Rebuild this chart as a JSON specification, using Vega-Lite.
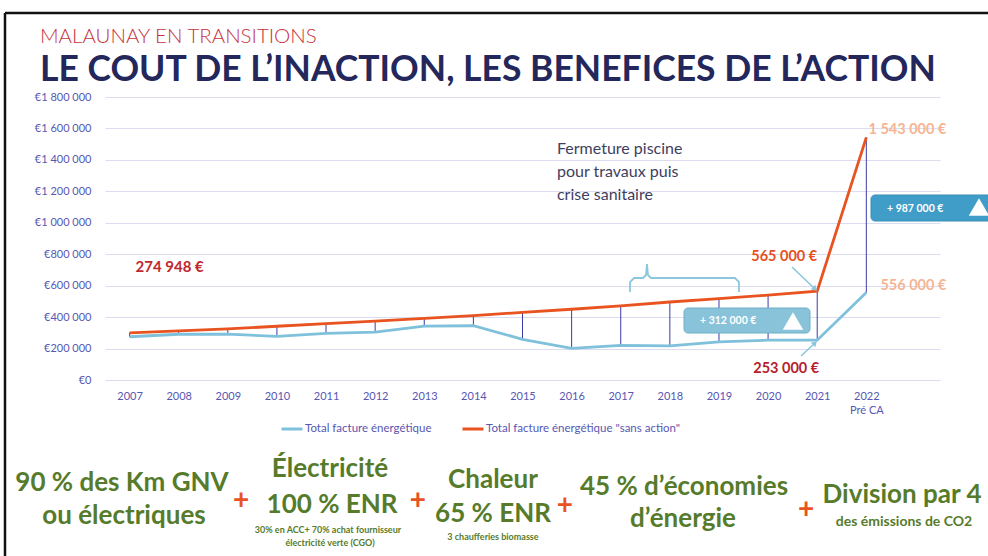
{
  "$schema": "https://vega.github.io/schema/vega-lite/v6.json",
  "width": 835,
  "height": 283,
  "autosize": "none",
  "padding": {"left": 105, "top": 97, "right": 48, "bottom": 176},
  "background": "white",
  "config": {"view": {"stroke": null}, "font": "Lato"},
  "title": {
    "text": "MALAUNAY EN TRANSITIONS",
    "subtitle": "LE COUT DE L’INACTION, LES BENEFICES DE L’ACTION",
    "anchor": "start",
    "frame": "group",
    "dx": -65,
    "offset": -77,
    "font": "Lato",
    "fontSize": 20.5,
    "fontWeight": 300,
    "color": "#C7343E",
    "subtitleFont": "Lato",
    "subtitleFontSize": 35.5,
    "subtitleFontWeight": "bold",
    "subtitleColor": "#23275C",
    "subtitlePadding": 6
  },
  "datasets": {
    "bills": [
      {"year": 2007, "total": 274948, "sansAction": 300000},
      {"year": 2008, "total": 291000, "sansAction": 312000},
      {"year": 2009, "total": 292000, "sansAction": 325000},
      {"year": 2010, "total": 277000, "sansAction": 342000},
      {"year": 2011, "total": 297000, "sansAction": 358000},
      {"year": 2012, "total": 305000, "sansAction": 374000},
      {"year": 2013, "total": 343000, "sansAction": 392000},
      {"year": 2014, "total": 345000, "sansAction": 410000},
      {"year": 2015, "total": 259000, "sansAction": 430000},
      {"year": 2016, "total": 201000, "sansAction": 450000},
      {"year": 2017, "total": 220000, "sansAction": 472000},
      {"year": 2018, "total": 217000, "sansAction": 496000},
      {"year": 2019, "total": 243000, "sansAction": 518000},
      {"year": 2020, "total": 253000, "sansAction": 540000},
      {"year": 2021, "total": 253000, "sansAction": 565000},
      {"year": 2022, "total": 556000, "sansAction": 1543000}
    ],
    "footer": [
      {"x": 2006.846, "y": -706004, "text": "90 % des Km GNV", "role": "big"},
      {"x": 2006.887, "y": -915898, "text": "ou électriques", "role": "big"},
      {"x": 2011.081, "y": -616959, "text": "Électricité", "role": "big"},
      {"x": 2011.122, "y": -845933, "text": "100 % ENR", "role": "big"},
      {"x": 2011.040, "y": -973141, "text": "30% en ACC+ 70% achat fournisseur", "role": "note"},
      {"x": 2011.081, "y": -1055826, "text": "électricité verte (CGO)", "role": "note"},
      {"x": 2014.399, "y": -686923, "text": "Chaleur", "role": "big"},
      {"x": 2014.399, "y": -903177, "text": "65 % ENR", "role": "big"},
      {"x": 2014.399, "y": -1017664, "text": "3 chaufferies biomasse", "role": "note"},
      {"x": 2018.288, "y": -731446, "text": "45 % d’économies", "role": "big"},
      {"x": 2018.268, "y": -934979, "text": "d’énergie", "role": "big"},
      {"x": 2022.726, "y": -782329, "text": "Division par 4", "role": "big"},
      {"x": 2022.767, "y": -928618, "text": "des émissions de CO2", "role": "co2"},
      {"x": 2009.269, "y": -820492, "text": "+", "role": "plus"},
      {"x": 2012.872, "y": -820492, "text": "+", "role": "plus"},
      {"x": 2015.865, "y": -852294, "text": "+", "role": "plus"},
      {"x": 2020.772, "y": -877735, "text": "+", "role": "plus"}
    ],
    "boxes": [
      {"x1": 2018.288, "x2": 2020.853, "y1": 298939, "y2": 457949, "tx": 2018.614, "ty": 375264, "trix": 2020.507, "triy": 375264, "label": "+ 312 000 €", "kind": "light"},
      {"x1": 2022.095, "x2": 2024.62, "y1": 1011304, "y2": 1176674, "tx": 2022.421, "ty": 1087628, "trix": 2024.294, "triy": 1100349, "label": "+ 987 000 €", "kind": "dark"}
    ],
    "brace": [
      {"i": 1, "x": 2017.189, "y": 559715},
      {"i": 2, "x": 2017.189, "y": 623319},
      {"i": 3, "x": 2017.270, "y": 648761},
      {"i": 4, "x": 2017.453, "y": 648761},
      {"i": 5, "x": 2017.514, "y": 667842},
      {"i": 6, "x": 2017.535, "y": 737806},
      {"i": 7, "x": 2017.555, "y": 667842},
      {"i": 8, "x": 2017.616, "y": 648761},
      {"i": 9, "x": 2019.326, "y": 648761},
      {"i": 10, "x": 2019.408, "y": 623319},
      {"i": 11, "x": 2019.408, "y": 559715}
    ],
    "arrows": [
      {"id": "a", "x": 2020.487, "y": 718725, "x2": 2020.955, "y2": 578796},
      {"id": "b", "x": 2020.670, "y": 152650, "x2": 2020.955, "y2": 235335}
    ],
    "frame": [
      {"x": 2004.464, "y": 2334267, "x2": 2024.6, "y2": 2334267},
      {"x": 2004.464, "y": 2334267, "x2": 2004.464, "y2": -1125000}
    ]
  },
  "layer": [
    {
      "data": {"name": "bills"},
      "mark": {"type": "rule", "color": "#3B3BA8", "strokeWidth": 1},
      "encoding": {
        "x": {"field": "year", "type": "quantitative", "scale": {"domain": [2006.5, 2023.5], "nice": false, "zero": false},
          "axis": {"values": [2007, 2008, 2009, 2010, 2011, 2012, 2013, 2014, 2015, 2016, 2017, 2018, 2019, 2020, 2021, 2022],
            "tickCount": 40,
            "labelExpr": "datum.value == 2022 ? ['2022', 'Pré CA'] : format(datum.value, 'd')",
            "grid": false, "ticks": false, "tickSize": 0, "domain": false, "labelFlush": false, "labelOverlap": false,
            "labelColor": "#5757B2", "labelFont": "Lato", "labelFontSize": 11, "labelPadding": 10, "labelLineHeight": 14, "title": null}},
        "y": {"field": "total", "type": "quantitative", "scale": {"domain": [0, 1800000], "nice": false},
          "axis": {"values": [0, 200000, 400000, 600000, 800000, 1000000, 1200000, 1400000, 1600000, 1800000],
            "tickCount": 40,
            "labelExpr": "'€' + replace(replace(format(datum.value, ','), ',', ' '), ',', ' ')",
            "grid": true, "gridColor": "#DCDCF0", "gridWidth": 1.2, "ticks": false, "tickSize": 0, "domain": false, "labelOverlap": false,
            "labelColor": "#5757B2", "labelFont": "Lato", "labelFontSize": 11, "labelPadding": 14, "title": null}},
        "y2": {"field": "sansAction"}
      }
    },
    {
      "data": {"name": "bills"},
      "transform": [{"fold": ["total", "sansAction"], "as": ["serie", "value"]}],
      "mark": {"type": "line", "strokeWidth": 2.8},
      "encoding": {
        "x": {"field": "year", "type": "quantitative"},
        "y": {"field": "value", "type": "quantitative"},
        "color": {"field": "serie", "type": "nominal",
          "scale": {"domain": ["total", "sansAction"], "range": ["#7FC0DB", "#E8531F"]},
          "legend": {"orient": "none", "legendX": 175, "legendY": 320, "direction": "horizontal", "title": null,
            "symbolType": "stroke", "symbolSize": 441, "symbolStrokeWidth": 3, "labelFont": "Lato", "labelFontSize": 11.5,
            "labelColor": "#5757B2", "labelOffset": 1, "columnPadding": 24, "padding": 0, "labelLimit": 400,
            "labelExpr": "datum.value == 'total' ? 'Total facture énergétique' : 'Total facture énergétique \"sans action\"'"}}
      }
    },
    {
      "data": {"name": "boxes"},
      "mark": {"type": "rect", "cornerRadius": 4, "strokeWidth": 1},
      "encoding": {
        "x": {"field": "x1", "type": "quantitative"},
        "x2": {"field": "x2"},
        "y": {"field": "y1", "type": "quantitative"},
        "y2": {"field": "y2"},
        "fill": {"field": "kind", "type": "nominal", "scale": {"domain": ["light", "dark"], "range": ["#88C3DA", "#3F9DC8"]}, "legend": null},
        "stroke": {"field": "kind", "type": "nominal", "scale": {"domain": ["light", "dark"], "range": ["#6FAFC9", "#3A90B8"]}, "legend": null}
      }
    },
    {
      "data": {"name": "boxes"},
      "mark": {"type": "text", "align": "left", "baseline": "middle", "color": "white", "fontWeight": "bold", "fontSize": 10.5, "font": "Lato"},
      "encoding": {
        "x": {"field": "tx", "type": "quantitative"},
        "y": {"field": "ty", "type": "quantitative"},
        "text": {"field": "label"}
      }
    },
    {
      "data": {"name": "boxes"},
      "mark": {"type": "point", "shape": "triangle-up", "filled": true, "color": "white", "opacity": 1, "size": 420},
      "encoding": {
        "x": {"field": "trix", "type": "quantitative"},
        "y": {"field": "triy", "type": "quantitative"}
      }
    },
    {
      "data": {"values": [{"year": 2007, "value": 274948, "label": "274 948 €"}]},
      "mark": {"type": "text", "align": "left", "baseline": "middle", "dx": 6, "dy": -70, "color": "#C0282D", "fontWeight": "bold", "fontSize": 15, "font": "Lato"},
      "encoding": {"x": {"field": "year", "type": "quantitative"}, "y": {"field": "value", "type": "quantitative"}, "text": {"field": "label"}}
    },
    {
      "data": {"values": [{"year": 2021, "value": 565000, "label": "565 000 €"}]},
      "mark": {"type": "text", "align": "right", "baseline": "middle", "dx": 0, "dy": -34, "color": "#E5501C", "fontWeight": "bold", "fontSize": 14.5, "font": "Lato"},
      "encoding": {"x": {"field": "year", "type": "quantitative"}, "y": {"field": "value", "type": "quantitative"}, "text": {"field": "label"}}
    },
    {
      "data": {"values": [{"year": 2021, "value": 253000, "label": "253 000 €"}]},
      "mark": {"type": "text", "align": "right", "baseline": "middle", "dx": 2, "dy": 29, "color": "#B5202C", "fontWeight": "bold", "fontSize": 14.5, "font": "Lato"},
      "encoding": {"x": {"field": "year", "type": "quantitative"}, "y": {"field": "value", "type": "quantitative"}, "text": {"field": "label"}}
    },
    {
      "data": {"values": [{"year": 2022, "value": 1543000, "label": "1 543 000 €"}, {"year": 2022, "value": 556000, "label": "556 000 €"}]},
      "mark": {"type": "text", "align": "right", "baseline": "middle", "dx": 80, "dy": -7, "color": "#F5B595", "fontWeight": "bold", "fontSize": 14.5, "font": "Lato"},
      "encoding": {"x": {"field": "year", "type": "quantitative"}, "y": {"field": "value", "type": "quantitative"}, "text": {"field": "label"}}
    },
    {
      "data": {"values": [{"x": 2015.702, "y": 1437450, "note": "Fermeture piscine\npour travaux puis\ncrise sanitaire"}]},
      "mark": {"type": "text", "align": "left", "baseline": "alphabetic", "lineBreak": "\n", "lineHeight": 23, "color": "#3E3E5E", "fontSize": 16, "font": "Lato"},
      "encoding": {"x": {"field": "x", "type": "quantitative"}, "y": {"field": "y", "type": "quantitative"}, "text": {"field": "note"}}
    },
    {
      "data": {"name": "brace"},
      "mark": {"type": "line", "color": "#8CC6DE", "strokeWidth": 1.8},
      "encoding": {
        "x": {"field": "x", "type": "quantitative"},
        "y": {"field": "y", "type": "quantitative"},
        "order": {"field": "i", "type": "quantitative"}
      }
    },
    {
      "data": {"name": "arrows"},
      "mark": {"type": "rule", "color": "#8CC6DE", "strokeWidth": 1.6},
      "encoding": {
        "x": {"field": "x", "type": "quantitative"},
        "y": {"field": "y", "type": "quantitative"},
        "x2": {"field": "x2"},
        "y2": {"field": "y2"}
      }
    },
    {
      "data": {"name": "arrows"},
      "transform": [{"filter": "datum.id == 'a'"}],
      "mark": {"type": "point", "shape": "triangle-up", "filled": true, "color": "#8CC6DE", "opacity": 1, "size": 40, "angle": 135},
      "encoding": {"x": {"field": "x2", "type": "quantitative"}, "y": {"field": "y2", "type": "quantitative"}}
    },
    {
      "data": {"name": "arrows"},
      "transform": [{"filter": "datum.id == 'b'"}],
      "mark": {"type": "point", "shape": "triangle-up", "filled": true, "color": "#8CC6DE", "opacity": 1, "size": 40, "angle": 45},
      "encoding": {"x": {"field": "x2", "type": "quantitative"}, "y": {"field": "y2", "type": "quantitative"}}
    },
    {
      "data": {"name": "footer"},
      "transform": [{"filter": "datum.role == 'big'"}],
      "mark": {"type": "text", "align": "center", "baseline": "alphabetic", "color": "#567B2B", "fontWeight": "bold", "fontSize": 26, "font": "Lato"},
      "encoding": {"x": {"field": "x", "type": "quantitative"}, "y": {"field": "y", "type": "quantitative"}, "text": {"field": "text"}}
    },
    {
      "data": {"name": "footer"},
      "transform": [{"filter": "datum.role == 'note'"}],
      "mark": {"type": "text", "align": "center", "baseline": "alphabetic", "color": "#567B2B", "fontWeight": "bold", "fontSize": 9, "font": "Lato"},
      "encoding": {"x": {"field": "x", "type": "quantitative"}, "y": {"field": "y", "type": "quantitative"}, "text": {"field": "text"}}
    },
    {
      "data": {"name": "footer"},
      "transform": [{"filter": "datum.role == 'co2'"}],
      "mark": {"type": "text", "align": "center", "baseline": "alphabetic", "color": "#567B2B", "fontWeight": "bold", "fontSize": 14, "font": "Lato"},
      "encoding": {"x": {"field": "x", "type": "quantitative"}, "y": {"field": "y", "type": "quantitative"}, "text": {"field": "text"}}
    },
    {
      "data": {"name": "footer"},
      "transform": [{"filter": "datum.role == 'plus'"}],
      "mark": {"type": "text", "align": "center", "baseline": "alphabetic", "color": "#E8531F", "fontWeight": "bold", "fontSize": 28, "font": "Lato"},
      "encoding": {"x": {"field": "x", "type": "quantitative"}, "y": {"field": "y", "type": "quantitative"}, "text": {"field": "text"}}
    },
    {
      "data": {"name": "frame"},
      "mark": {"type": "rule", "color": "#111111", "strokeWidth": 2.5},
      "encoding": {
        "x": {"field": "x", "type": "quantitative"},
        "y": {"field": "y", "type": "quantitative"},
        "x2": {"field": "x2"},
        "y2": {"field": "y2"}
      }
    }
  ]
}
